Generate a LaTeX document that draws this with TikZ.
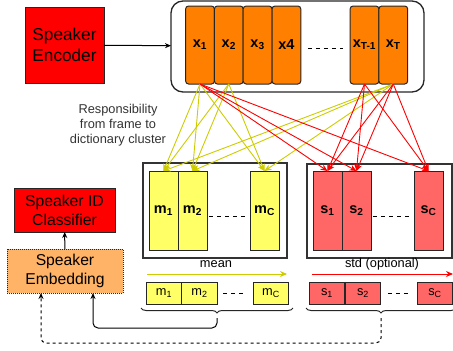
\documentclass[tikz,border=0pt]{standalone}
\usepackage{fontspec}
\setmainfont{Liberation Sans}
\usetikzlibrary{arrows.meta,decorations.pathreplacing}
\definecolor{encred}{RGB}{255,0,0}
\definecolor{frameorange}{RGB}{255,128,0}
\definecolor{meanyellow}{RGB}{255,255,102}
\definecolor{meanarrow}{RGB}{204,204,0}
\definecolor{stdred}{RGB}{255,102,102}
\definecolor{embfill}{RGB}{255,179,102}
\begin{document}
\begin{tikzpicture}[x=1pt,y=1pt,yscale=-1,
    box/.style={draw=black!85,line width=1pt,inner sep=0pt,outer sep=0pt,align=center},
    frame/.style={box,fill=frameorange,rounded corners=3pt,minimum width=28.8pt,minimum height=78pt,font=\fontsize{14.5}{16}\selectfont\bfseries},
    bigcell/.style={box,minimum width=29pt,minimum height=79pt,font=\fontsize{14.5}{16}\selectfont\bfseries},
    smallcell/.style={box,minimum width=35.5pt,minimum height=22pt,font=\fontsize{12.8}{14}\selectfont},
    holder/.style={box,line width=1.3pt,draw=black!80},
    yarr/.style={draw=meanarrow,line width=0.9pt,-{Stealth[length=7pt,width=6pt]}},
    rarr/.style={draw=red,line width=0.9pt,-{Stealth[length=7pt,width=6pt]}},
    karr/.style={draw=black,line width=1pt,-{Stealth[length=6pt,width=5pt]}},
    gap/.style={line width=1pt,dash pattern=on 4pt off 4pt},
    curly/.style={draw=black!85,line width=1pt,decorate,decoration={brace,mirror,amplitude=5pt}}]
\useasboundingbox (0,0) rectangle (453,351);

%Shape: Rectangle [encoder]
\node[box,fill=encred,minimum width=79pt,minimum height=76pt,font=\fontsize{17.2}{21}\selectfont] (enc) at (64.5,45) {Speaker\\Encoder};
%Shape: Rounded Rect [frames]
\node[box,line width=1.3pt,rounded corners=12pt,minimum width=253pt,minimum height=91pt] (frames) at (297.5,46.5) {};
\draw[karr] (enc) -- (frames);

%Frames
\node[frame] (x1) at (200,45) {x\textsubscript{1}};
\node[frame] (x2) at (228.8,45) {x\textsubscript{2}};
\node[frame] (x3) at (257.6,45) {x\textsubscript{3}};
\node[frame] (x4) at (286.4,45) {x4};
\node[frame] (xt1) at (364.5,45) {x\textsubscript{T-1}};
\node[frame] (xt) at (393.3,45) {x\textsubscript{T}};
\draw[gap] ([xshift=7pt,yshift=3pt]x4.east) -- ([xshift=-7pt,yshift=3pt]xt1.west);

% Text Node
\node[align=center,text=black!80,font=\fontsize{12.8}{15}\selectfont] (resp) at (118,125) {Responsibility\\from frame to\\dictionary cluster};

%Mean dictionary
\node[holder,minimum width=144pt,minimum height=95pt] (meanbox) at (215,210.5) {};
\node[bigcell,fill=meanyellow] (m1) at (163.5,210.5) {m\textsubscript{1}};
\node[bigcell,fill=meanyellow] (m2) at (192.5,210.5) {m\textsubscript{2}};
\node[bigcell,fill=meanyellow] (mc) at (264.5,210.5) {m\textsubscript{C}};
\draw[gap] ([xshift=2pt,yshift=6pt]m2.east) -- ([xshift=-5pt,yshift=6pt]mc.west);

%Std dictionary
\node[holder,minimum width=145pt,minimum height=94pt] (stdbox) at (379.5,211) {};
\node[bigcell,fill=stdred] (s1) at (327.5,210.5) {s\textsubscript{1}};
\node[bigcell,fill=stdred] (s2) at (356.5,210.5) {s\textsubscript{2}};
\node[bigcell,fill=stdred] (sc) at (428.5,210.5) {s\textsubscript{C}};
\draw[gap] ([xshift=2pt,yshift=6pt]s2.east) -- ([xshift=-5pt,yshift=6pt]sc.west);

%Responsibility arrows
\foreach \f in {x1,x2,xt}
  \foreach \m in {m1,m2,mc}
    \draw[yarr] (\f.south) -- (\m.north);
\foreach \f in {x1,xt1,xt}
  \foreach \s in {s1,s2,sc}
    \draw[rarr] (\f.south) -- (\s.north);

%Pooling
\node[font=\fontsize{12.8}{14}\selectfont] (meanlbl) at (216,264) {mean};
\draw[draw=meanarrow,line width=1pt,-{Stealth[length=7pt,width=6pt]}] (147,274) -- (287,274);
\node[font=\fontsize{12.8}{14}\selectfont] (stdlbl) at (382,264) {std (optional)};
\draw[draw=red,line width=1pt,-{Stealth[length=7pt,width=6pt]}] (312,274) -- (453,274);

\node[smallcell,fill=meanyellow] (pm1) at (164,293) {m\textsubscript{1}};
\node[smallcell,fill=meanyellow] (pm2) at (199.5,293) {m\textsubscript{2}};
\node[smallcell,fill=meanyellow] (pmc) at (271,293) {m\textsubscript{C}};
\draw[gap] ([xshift=6pt]pm2.east) -- ([xshift=-8pt]pmc.west);
\node[smallcell,fill=stdred] (ps1) at (327,293) {s\textsubscript{1}};
\node[smallcell,fill=stdred] (ps2) at (363,293) {s\textsubscript{2}};
\node[smallcell,fill=stdred] (psc) at (435,293) {s\textsubscript{C}};
\draw[gap] ([xshift=7pt]ps2.east) -- ([xshift=-8pt]psc.west);

%Braces
\draw[curly] (141,308) -- (293,308);
\draw[curly] (306,308) -- (456,308);
\coordinate (mtip) at (217,318);
\coordinate (stip) at (381,318);

%Speaker embedding and classifier
\node[box,fill=embfill,densely dotted,minimum width=116pt,minimum height=44pt,font=\fontsize{15.7}{19}\selectfont] (emb) at (65,271) {Speaker\\Embedding};
\node[box,fill=encred,minimum width=101pt,minimum height=44pt,font=\fontsize{15.7}{19}\selectfont] (clf) at (64.5,210) {Speaker ID\\Classifier};
\draw[karr] (emb) -- (clf);

\coordinate (mturn) at (93,328);
\coordinate (sturn) at (41,343);
\draw[karr,rounded corners=5pt] (mtip) |- (mturn) -- (mturn |- emb.south);
\draw[karr,dashed,rounded corners=5pt] (stip) |- (sturn) -- (sturn |- emb.south);
\end{tikzpicture}
\end{document}
